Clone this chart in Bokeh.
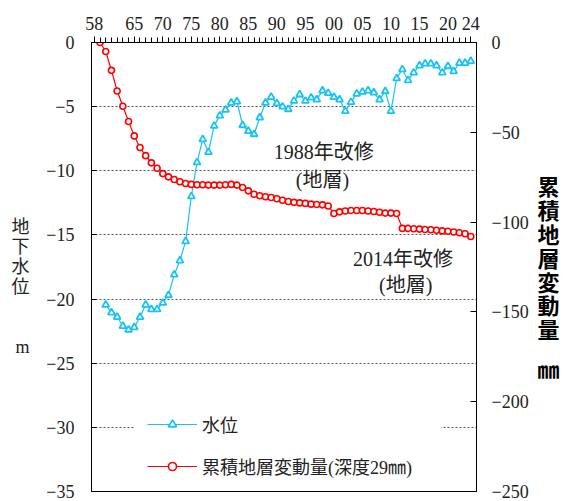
from bokeh.plotting import figure
from bokeh.models import (LinearAxis, Range1d, FixedTicker, Label, Legend,
                          LegendItem, ColumnDataSource)
from bokeh.embed import file_html
from bokeh.resources import INLINE

# ---- data -------------------------------------------------------------
level_years = list(range(1960, 2025))
water_level = [  # groundwater level, m
    -20.45, -21.05, -21.4, -22.1, -22.4, -22.2, -21.4, -20.45, -20.8, -20.8,
    -20.3, -19.7, -18.1, -17.0, -15.5, -12.0, -9.35, -7.55, -8.55, -6.5,
    -5.7, -5.25, -4.7, -4.6, -6.45, -6.9, -7.15, -5.85, -4.7, -4.25,
    -4.75, -5.0, -5.2, -4.55, -4.05, -4.55, -4.3, -4.45, -3.75, -3.95,
    -4.25, -4.45, -5.35, -4.65, -4.0, -3.85, -3.75, -3.9, -4.45, -3.8,
    -5.35, -2.8, -2.1, -2.95, -2.35, -1.8, -1.65, -1.65, -1.8, -2.35,
    -1.85, -2.25, -1.6, -1.6, -1.45,
]

sub_years = list(range(1959, 2025))
subsidence = [  # cumulative compaction, mm
    0.0, -5.0, -15.5, -27.0, -35.5, -44.0, -52.0, -58.5, -63.0, -67.0,
    -70.0, -73.0, -74.8, -76.3, -77.5, -78.5, -79.0, -79.2, -79.2, -79.4,
    -79.4, -79.4, -79.2, -79.0, -79.4, -80.7, -82.6, -84.5, -85.3, -85.9,
    -86.3, -87.0, -87.8, -88.5, -89.0, -89.3, -89.6, -90.0, -90.2, -90.4,
    -91.0, -95.2, -94.3, -93.8, -93.5, -93.5, -93.5, -93.8, -94.1, -94.5,
    -95.0, -95.0, -95.2, -103.5, -103.5, -103.7, -103.9, -104.1, -104.3, -104.5,
    -104.9, -105.1, -105.5, -105.9, -106.5, -108.0,
]

year_ticks = [1958, 1965, 1970, 1975, 1980, 1985, 1990, 1995, 2000, 2005,
              2010, 2015, 2020, 2024]
year_labels = ["58", "65", "70", "75", "80", "85", "90", "95", "00", "05",
               "10", "15", "20", "24"]
level_ticks = [0, -5, -10, -15, -20, -25, -30, -35]
mm_ticks = [0, -50, -100, -150, -200, -250]

# ---- styling ----------------------------------------------------------
SERIF = "'Liberation Serif', 'Noto Sans CJK JP'"
CJK = "'Noto Sans CJK JP'"
CYAN = "#19C3F3"
RED = "#FF0000"
INK = "#222222"


def minus(v):
    return "0" if v == 0 else "\u2212" + str(abs(v))


def style_axis(ax, size="18px", font=SERIF, color=INK):
    ax.minor_tick_in = 0
    ax.minor_tick_out = 0
    ax.axis_line_color = "black"
    ax.major_tick_line_color = "black"
    ax.major_label_text_font = font
    ax.major_label_text_font_size = size
    ax.major_label_text_color = color


def title_axis(ticks, texts, standoff, size, font, bold, y_range_name="default"):
    """An axis with no line or ticks whose labels spell a stacked title."""
    ax = LinearAxis(y_range_name=y_range_name,
                    ticker=FixedTicker(ticks=ticks, minor_ticks=[]))
    ax.major_label_overrides = dict(zip(ticks, texts))
    ax.axis_line_alpha = 0
    ax.major_tick_line_alpha = 0
    ax.minor_tick_line_alpha = 0
    ax.major_tick_in = 0
    ax.major_tick_out = 0
    ax.minor_tick_in = 0
    ax.minor_tick_out = 0
    ax.major_label_standoff = standoff
    ax.major_label_text_font = font
    ax.major_label_text_font_size = size
    ax.major_label_text_font_style = "bold" if bold else "normal"
    ax.major_label_text_color = "black" if bold else INK
    return ax


p = figure(width=583, height=501, output_backend="svg", toolbar_location=None,
           x_range=Range1d(1957.5, 2025), y_range=Range1d(-35, 0),
           x_axis_location="above", y_axis_location="left",
           min_border_left=91, min_border_right=107,
           min_border_top=42, min_border_bottom=10)
p.outline_line_color = "black"
p.outline_line_alpha = 1
p.outline_line_width = 1
p.background_fill_color = "white"
p.border_fill_color = "white"

# top year axis, a tick every year
xa = p.xaxis[0]
style_axis(xa)
xa.ticker = FixedTicker(ticks=year_ticks, minor_ticks=list(range(1958, 2025)))
xa.major_label_overrides = dict(zip(year_ticks, year_labels))
xa.major_tick_in = 0
xa.major_tick_out = 6
xa.minor_tick_out = 5
xa.minor_tick_line_color = "black"
xa.major_label_standoff = 7

# left groundwater level axis
ya = p.yaxis[0]
style_axis(ya)
ya.ticker = FixedTicker(ticks=level_ticks, minor_ticks=[])
ya.major_label_overrides = {v: minus(v) for v in level_ticks}
ya.major_tick_in = 5
ya.major_tick_out = 0
ya.major_label_standoff = 17

# right compaction axis
p.extra_y_ranges = {"mm": Range1d(-250, 0)}
ra = LinearAxis(y_range_name="mm",
                ticker=FixedTicker(ticks=mm_ticks, minor_ticks=[]))
style_axis(ra)
ra.major_label_overrides = {v: minus(v) for v in mm_ticks}
ra.major_tick_in = 6
ra.major_tick_out = 0
ra.major_label_standoff = 15
p.add_layout(ra, "right")

# stacked titles, one character per row, outside the value axes
p.add_layout(title_axis([-14.4, -15.95, -17.5, -19.05, -23.7],
                        ["地", "下", "水", "位", "m"],
                        standoff=14, size="18px", font=SERIF, bold=False), "left")
p.add_layout(title_axis([-79.6, -92.85, -106.1, -119.35, -132.6, -145.85, -159.1, -181.5],
                        ["累", "積", "地", "層", "変", "動", "量", "㎜"],
                        standoff=6, size="22px", font=CJK, bold=True,
                        y_range_name="mm"), "right")

# dotted horizontal grid at the inner level ticks
p.xgrid.visible = False
p.ygrid[0].ticker = FixedTicker(ticks=level_ticks[1:-1])
p.ygrid.grid_line_color = "#555555"
p.ygrid.grid_line_dash = "2 2"
p.ygrid.grid_line_width = 1

# ---- series -----------------------------------------------------------
lev_src = ColumnDataSource(dict(year=level_years, level=water_level))
sub_src = ColumnDataSource(dict(year=sub_years, mm=subsidence))

lev_line = p.line("year", "level", source=lev_src, line_color=CYAN, line_width=1.2)
lev_pts = p.scatter("year", "level", source=lev_src, marker="triangle", size=7,
                    fill_color="white", line_color=CYAN, line_width=1.8)

sub_line = p.line("year", "mm", source=sub_src, y_range_name="mm",
                  line_color=RED, line_width=1.2)
sub_pts = p.scatter("year", "mm", source=sub_src, y_range_name="mm",
                    marker="circle", size=6, fill_color="white",
                    line_color=RED, line_width=1.6)

# ---- notes on the chart -----------------------------------------------
notes = [
    (1998.2, -8.56, "1988年改修"),
    (1998.0, -10.73, "(地層)"),
    (2012.1, -16.88, "2014年改修"),
    (2012.6, -18.9, "(地層)"),
]
for nx, ny, txt in notes:
    p.add_layout(Label(x=nx, y=ny, text=txt, text_align="center",
                       text_baseline="middle", text_font=SERIF,
                       text_font_size="20px", text_color=INK))

# ---- legend -------------------------------------------------------------
legend = Legend(
    items=[LegendItem(label="水位", renderers=[lev_line, lev_pts]),
           LegendItem(label="累積地層変動量(深度29㎜)", renderers=[sub_line, sub_pts])],
    location=(44, 0), glyph_width=50, glyph_height=20, label_height=20,
    label_width=227, spacing=16, padding=12, label_standoff=5, margin=0,
    border_line_alpha=0, background_fill_color="white", background_fill_alpha=1,
    label_text_font=SERIF, label_text_font_size="18px", label_text_color=INK,
)
p.add_layout(legend)

with open("out.html", "w") as f:
    f.write(file_html(p, INLINE))
